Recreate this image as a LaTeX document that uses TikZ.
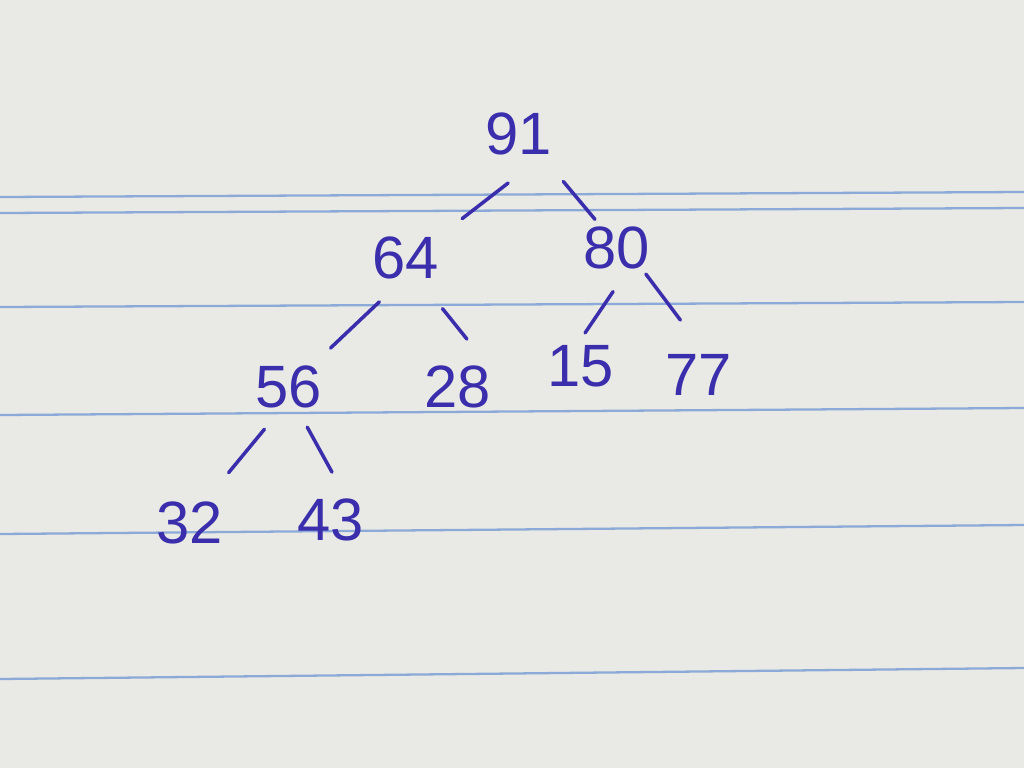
\documentclass[tikz,border=0pt]{standalone}
\usepackage{fontspec}
\setmainfont{Liberation Sans}
\usetikzlibrary{positioning}

\definecolor{paper}{RGB}{233,233,229}
\definecolor{rule}{RGB}{140,170,215}
\definecolor{ink}{RGB}{58,46,172}

\begin{document}
\begin{tikzpicture}[x=0.02cm,y=-0.02cm,
  key/.style={text=ink, font=\fontsize{34}{38}\selectfont, inner sep=1pt},
  branch/.style 2 args={draw=ink, line width=2pt, line cap=round, shorten <=#1, shorten >=#2},
  ruling/.style={draw=rule, line width=1.3pt},
]

% paper
\fill[paper] (0,0) rectangle (1024,768);
\useasboundingbox (0,0) rectangle (1024,768);

% ruled lines
\draw[ruling] (0,197) -- (1024,192);
\draw[ruling] (0,213) -- (1024,208);
\draw[ruling] (0,307) -- (1024,302);
\draw[ruling] (0,415) -- (1024,408);
\draw[ruling] (0,534) -- (1024,525);
\draw[ruling] (0,679) -- (1024,668);

% heap
\node[key] (n91) at (519,134) {91};
\node[key] (n64) at (406,258) {64};
\node[key] (n80) at (617,248) {80};
\node[key] (n56) at (289,387) {56};
\node[key] (n28) at (458,387) {28};
\node[key] (n15) at (581,366) {15};
\node[key] (n77) at (699,375) {77};
\node[key] (n32) at (190,523) {32};
\node[key] (n43) at (331,520) {43};

% short strokes between keys
\draw[branch={24pt}{15pt}] (n91.-46) -- (n64.north east);
\draw[branch={18pt}{4pt}] (n91.-44) -- (n80.127);
\draw[branch={17pt}{13pt}] (n64.-102) -- (n56.43);
\draw[branch={20pt}{18pt}] (n64.-58) -- (n28.39);
\draw[branch={14pt}{7pt}] (n80.-67) -- (n15.97);
\draw[branch={2pt}{23pt}] (n80.-41) -- (n77.76);
\draw[branch={14pt}{20pt}] (n56.-111) -- (n32.55);
\draw[branch={11pt}{16pt}] (n56.-69) -- (n43.58);

\end{tikzpicture}
\end{document}
